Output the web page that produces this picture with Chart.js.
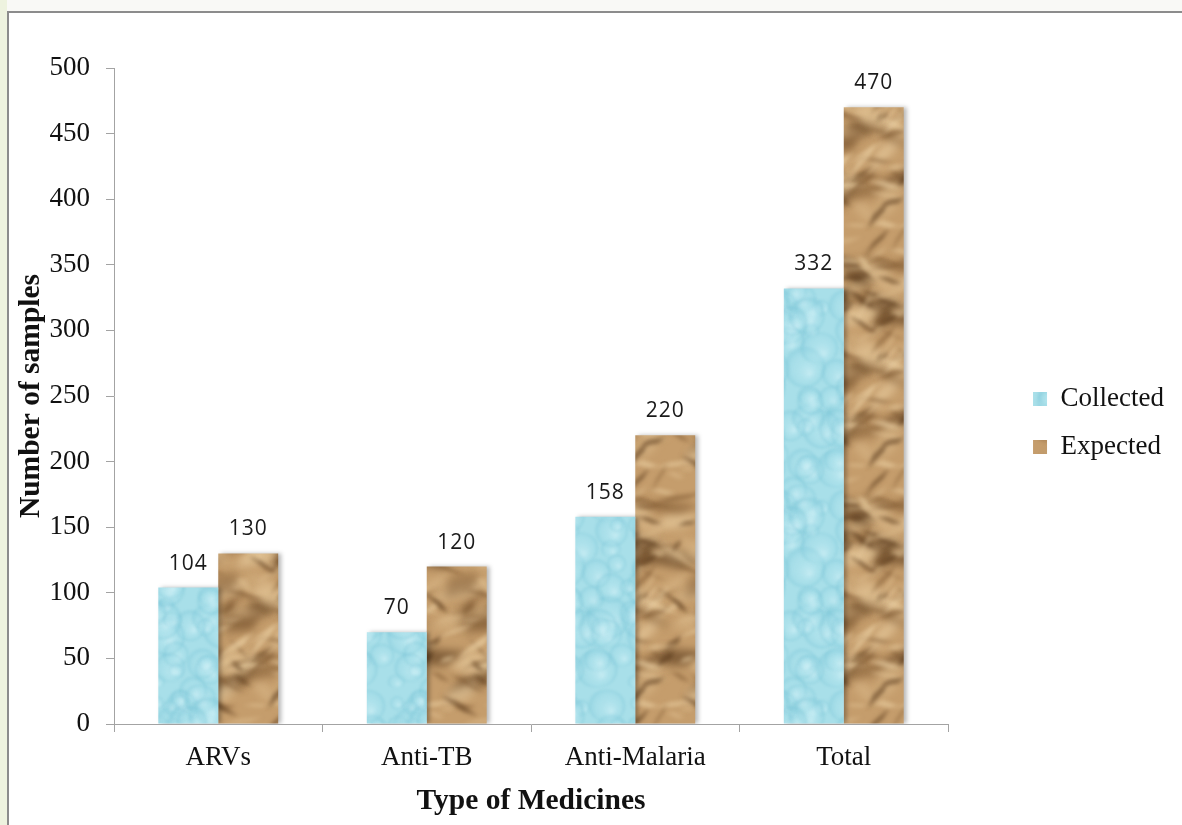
<!DOCTYPE html>
<html>
<head>
<meta charset="utf-8">
<title>Samples collected vs expected by type of medicine</title>
<script src="https://cdn.jsdelivr.net/npm/chart.js@4.4.1/dist/chart.umd.min.js"></script>
<style>
  html, body { margin: 0; padding: 0; }
  body { width: 1182px; height: 825px; background: #f9f9f6; position: relative; overflow: hidden; }
  #side { position: absolute; left: 0; top: 0; width: 7px; height: 825px; background: #eef3df; }
  #frame { position: absolute; left: 7px; top: 11px; right: 0; bottom: 0; background: #ffffff;
           border-left: 2px solid #8c8c8c; border-top: 2px solid #8c8c8c; }
  #wrap { position: absolute; left: 0; top: 0; width: 1182px; height: 825px; }
</style>
</head>
<body>
<div id="side"></div>
<div id="frame"></div>
<div id="wrap"><canvas id="chart" width="1182" height="825"></canvas></div>
<script>
// ---- data ----
const categories = ['ARVs', 'Anti-TB', 'Anti-Malaria', 'Total'];
const collected = [104, 70, 158, 332];
const expected = [130, 120, 220, 470];
const seriesNames = ['Collected', 'Expected'];
const yMin = 0, yMax = 500, yStep = 50;
const xTitle = 'Type of Medicines';
const yTitle = 'Number of samples';

// ---- textures ----
function makeRng(seed) {
  return function () {
    seed |= 0; seed = seed + 0x6D2B79F5 | 0;
    let t = Math.imul(seed ^ seed >>> 15, 1 | seed);
    t = t + Math.imul(t ^ t >>> 7, 61 | t) ^ t;
    return ((t ^ t >>> 14) >>> 0) / 4294967296;
  };
}

function tiled(w, h, fn) {
  for (const dx of [-w, 0, w]) for (const dy of [-h, 0, h]) fn(dx, dy);
}

// light blue surface covered in soft water droplets
function waterPattern(ctx) {
  const w = 120, h = 200;
  const c = document.createElement('canvas'); c.width = w; c.height = h;
  const g = c.getContext('2d');
  g.fillStyle = '#a8dfe9'; g.fillRect(0, 0, w, h);
  const rnd = makeRng(11);
  g.filter = 'blur(1.2px)';
  for (let i = 0; i < 60; i++) {
    const x = rnd() * w, y = rnd() * h, r = 7 + rnd() * 16, sq = 0.75 + rnd() * 0.35;
    tiled(w, h, (dx, dy) => {
      const cx = x + dx, cy = y + dy;
      const grd = g.createRadialGradient(cx + r * 0.25, cy + r * 0.3, r * 0.05, cx, cy, r);
      grd.addColorStop(0, 'rgba(225,248,252,0.45)');
      grd.addColorStop(0.55, 'rgba(180,230,240,0.12)');
      grd.addColorStop(0.88, 'rgba(110,190,210,0.28)');
      grd.addColorStop(1, 'rgba(110,190,210,0)');
      g.fillStyle = grd;
      g.beginPath(); g.ellipse(cx, cy, r, r * sq, 0, 0, Math.PI * 2); g.fill();
    });
  }
  g.filter = 'none';
  return ctx.createPattern(c, 'repeat');
}

// tan crumpled-paper surface
function paperPattern(ctx) {
  const w = 120, h = 240;
  const c = document.createElement('canvas'); c.width = w; c.height = h;
  const g = c.getContext('2d');
  g.fillStyle = '#c59d6c'; g.fillRect(0, 0, w, h);
  const rnd = makeRng(29);
  const tones = ['rgba(88,56,26,0.6)', 'rgba(120,82,44,0.5)', 'rgba(236,210,165,0.6)', 'rgba(220,188,140,0.55)'];
  const pass = (n, lenMin, lenVar, widMin, widVar, blur) => {
    g.filter = 'blur(' + blur + 'px)';
    for (let i = 0; i < n; i++) {
      const x = rnd() * w, y = rnd() * h;
      const len = lenMin + rnd() * lenVar, ang = -1.1 + rnd() * 1.9, wid = widMin + rnd() * widVar;
      const col = tones[Math.floor(rnd() * tones.length)];
      tiled(w, h, (dx, dy) => {
        g.save();
        g.translate(x + dx, y + dy); g.rotate(ang);
        g.fillStyle = col;
        g.beginPath();
        g.moveTo(-len / 2, 0); g.lineTo(-len * 0.1, -wid / 2); g.lineTo(len / 2, 0); g.lineTo(len * 0.15, wid / 2);
        g.closePath(); g.fill();
        g.restore();
      });
    }
  };
  pass(40, 30, 40, 10, 16, 4);
  pass(90, 14, 36, 2, 6, 2);
  g.filter = 'none';
  return ctx.createPattern(c, 'repeat');
}

const canvas = document.getElementById('chart');
const ctx2d = canvas.getContext('2d');
const waterFill = waterPattern(ctx2d);
const paperFill = paperPattern(ctx2d);

const axisGray = '#a3a3a3';
const serif = '"Liberation Serif", "Times New Roman", serif';

// soft shadow on the right edge of the bars
const barShadow = {
  id: 'barShadow',
  beforeDatasetsDraw(chart) {
    const c = chart.ctx; c.save();
    c.shadowColor = 'rgba(0,0,0,0.28)'; c.shadowOffsetX = 3; c.shadowOffsetY = 0; c.shadowBlur = 4;
  },
  afterDatasetsDraw(chart) { chart.ctx.restore(); }
};

// value printed above each bar
const valueLabels = {
  id: 'valueLabels',
  afterDatasetsDraw(chart) {
    const c = chart.ctx;
    c.save();
    c.font = '21px "Open Sans", "Liberation Sans", sans-serif';
    c.letterSpacing = '1px';
    c.fillStyle = '#1a1a1a';
    c.textAlign = 'center';
    c.textBaseline = 'alphabetic';
    chart.data.datasets.forEach((ds, i) => {
      chart.getDatasetMeta(i).data.forEach((bar, j) => {
        c.fillText(String(ds.data[j]), bar.x, bar.y - 18);
      });
    });
    c.restore();
  }
};

new Chart(canvas, {
  type: 'bar',
  data: {
    labels: categories,
    datasets: [
      { label: seriesNames[0], data: collected, backgroundColor: waterFill, borderWidth: 0 },
      { label: seriesNames[1], data: expected, backgroundColor: paperFill, borderWidth: 0 }
    ]
  },
  options: {
    responsive: false,
    animation: false,
    events: [],
    layout: { padding: { top: 68, left: 0, right: 8, bottom: 0 } },
    datasets: { bar: { categoryPercentage: 0.575, barPercentage: 1.0 } },
    scales: {
      x: {
        grid: { display: true, drawOnChartArea: false, drawTicks: true, tickLength: 8, color: axisGray, offset: true },
        border: { display: true, color: axisGray, width: 1 },
        ticks: { font: { family: serif, size: 27 }, color: '#111', padding: 10, maxRotation: 0 },
        title: { display: true, text: xTitle, font: { family: serif, size: 29.5, weight: 'bold' }, color: '#111',
                 padding: { top: 0, bottom: 6 } },
        afterFit(s) { s.height = 101; }
      },
      y: {
        min: yMin, max: yMax,
        grid: { display: true, drawOnChartArea: false, drawTicks: true, tickLength: 8, color: axisGray },
        border: { display: true, color: axisGray, width: 1 },
        ticks: { stepSize: yStep, font: { family: serif, size: 27 }, color: '#111', padding: 16 },
        title: { display: true, text: yTitle, font: { family: serif, size: 29.5, weight: 'bold' }, color: '#111',
                 padding: { top: 14, bottom: 0 } },
        afterFit(s) { s.width = 114; }
      },
      gap: {
        type: 'linear', position: 'right', display: true,
        grid: { display: false }, border: { display: false }, ticks: { display: false },
        afterFit(s) { s.width = 64; }
      }
    },
    plugins: {
      tooltip: { enabled: false },
      legend: {
        position: 'right',
        fullSize: false,
        title: { display: true, text: '', font: { size: 10, lineHeight: 1 }, padding: { top: 0, bottom: 44 } },
        labels: { font: { family: serif, size: 27 }, color: '#111', boxWidth: 14, boxHeight: 14, padding: 21 }
      }
    }
  },
  plugins: [barShadow, valueLabels]
});
</script>
</body>
</html>
